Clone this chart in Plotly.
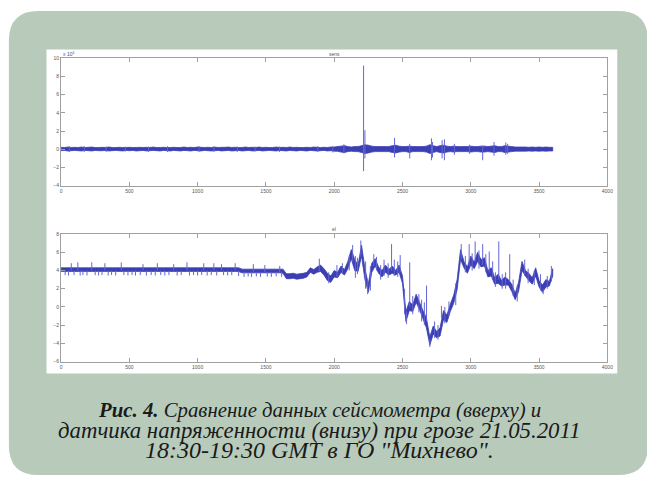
import plotly.graph_objects as go

W, H = 647, 488

# ---- seismometer channel "sens" (units of 1e4) ----
# continuous noise band: upper / lower edge every 25 s from t = 0 to 3600 s
sens_step = 25
sens_hi = [
    0.22, 0.2, 0.25, 0.2, 0.22, 0.2, 0.25, 0.2,
    0.22, 0.25, 0.2, 0.2, 0.22, 0.2, 0.25, 0.2,
    0.2, 0.22, 0.2, 0.2, 0.22, 0.2, 0.2, 0.22,
    0.2, 0.22, 0.2, 0.25, 0.2, 0.2, 0.22, 0.2,
    0.2, 0.22, 0.2, 0.2, 0.25, 0.2, 0.22, 0.2,
    0.25, 0.22, 0.2, 0.22, 0.2, 0.25, 0.2, 0.22,
    0.22, 0.25, 0.2, 0.22, 0.2, 0.2, 0.25, 0.2,
    0.22, 0.2, 0.25, 0.2, 0.22, 0.2, 0.2, 0.25,
    0.2, 0.22, 0.2, 0.25, 0.2, 0.22, 0.2, 0.2,
    0.22, 0.2, 0.25, 0.22, 0.2, 0.22, 0.2, 0.25,
    0.25, 0.3, 0.35, 0.4, 0.3, 0.25, 0.3, 0.3,
    0.4, 0.5, 0.45, 0.35, 0.3, 0.3, 0.3, 0.3,
    0.3, 0.4, 0.45, 0.35, 0.3, 0.3, 0.35, 0.3,
    0.3, 0.3, 0.3, 0.35, 0.5, 0.4, 0.3, 0.4,
    0.45, 0.35, 0.3, 0.35, 0.3, 0.3, 0.3, 0.3,
    0.35, 0.3, 0.3, 0.35, 0.35, 0.3, 0.35, 0.4,
    0.3, 0.3, 0.4, 0.35, 0.3, 0.25, 0.25, 0.25,
    0.25, 0.22, 0.25, 0.22, 0.25, 0.22, 0.25, 0.22,
    0.22,
]
sens_lo = [
    -0.15, -0.12, -0.18, -0.15, -0.12, -0.15, -0.18, -0.12,
    -0.15, -0.18, -0.12, -0.15, -0.15, -0.12, -0.18, -0.15,
    -0.12, -0.15, -0.18, -0.12, -0.15, -0.12, -0.18, -0.15,
    -0.12, -0.18, -0.15, -0.12, -0.15, -0.18, -0.12, -0.15,
    -0.18, -0.12, -0.15, -0.18, -0.12, -0.15, -0.18, -0.12,
    -0.15, -0.18, -0.12, -0.15, -0.18, -0.15, -0.12, -0.18,
    -0.15, -0.12, -0.18, -0.15, -0.12, -0.18, -0.15, -0.12,
    -0.18, -0.15, -0.12, -0.18, -0.15, -0.12, -0.15, -0.18,
    -0.12, -0.15, -0.18, -0.12, -0.15, -0.18, -0.12, -0.15,
    -0.18, -0.12, -0.15, -0.18, -0.15, -0.12, -0.18, -0.15,
    -0.2, -0.22, -0.3, -0.35, -0.25, -0.2, -0.25, -0.25,
    -0.35, -0.45, -0.4, -0.3, -0.25, -0.25, -0.25, -0.25,
    -0.25, -0.35, -0.4, -0.3, -0.25, -0.25, -0.35, -0.25,
    -0.25, -0.25, -0.25, -0.3, -0.45, -0.35, -0.25, -0.35,
    -0.4, -0.3, -0.25, -0.3, -0.25, -0.25, -0.25, -0.25,
    -0.3, -0.25, -0.25, -0.3, -0.3, -0.25, -0.3, -0.35,
    -0.25, -0.25, -0.35, -0.3, -0.25, -0.2, -0.2, -0.2,
    -0.2, -0.18, -0.2, -0.18, -0.2, -0.18, -0.2, -0.18,
    -0.18,
]
# short bursts: time, peak, trough
sens_burst_t = [60, 170, 330, 470, 640, 780, 1010, 1120, 1290, 1420, 1600, 1880, 1990,
                2071, 2215, 2225, 2442, 2553, 2712, 2720, 2790, 2807, 2880, 2990,
                3087, 3170, 3256, 3270]
sens_burst_top = [0.35, 0.35, 0.3, 0.3, 0.3, 0.35, 0.35, 0.3, 0.3, 0.3, 0.3, 0.35, 0.35,
                  0.55, 9.2, 2.1, 1.25, 0.6, 1.2, 0.8, 1.0, 1.1, 0.6, 0.5,
                  0.4, 0.8, 0.75, 0.6]
sens_burst_bot = [-0.3, -0.3, -0.3, -0.25, -0.3, -0.3, -0.3, -0.3, -0.3, -0.25, -0.3, -0.3, -0.35,
                  -0.45, -2.4, -1.0, -0.9, -1.0, -1.2, -0.9, -1.0, -1.2, -0.6, -0.5,
                  -1.2, -0.7, -0.6, -0.5]

# ---- field-strength channel "el" ----
el_step = 25
el_hi = [
    4.3, 4.3, 4.3, 4.3, 4.3, 4.3, 4.3, 4.3,
    4.3, 4.3, 4.3, 4.3, 4.3, 4.3, 4.3, 4.3,
    4.3, 4.3, 4.3, 4.3, 4.3, 4.3, 4.3, 4.3,
    4.3, 4.3, 4.3, 4.3, 4.3, 4.3, 4.3, 4.3,
    4.3, 4.3, 4.3, 4.3, 4.3, 4.3, 4.3, 4.3,
    4.3, 4.3, 4.3, 4.3, 4.3, 4.3, 4.3, 4.3,
    4.3, 4.3, 4.3, 4.3, 4.3, 4.15, 4.15, 4.15,
    4.15, 4.15, 4.15, 4.15, 4.15, 4.15, 4.15, 4.15,
    4.15, 4.15, 3.65, 3.65, 3.7, 3.6, 3.65, 3.7,
    3.8, 4.3, 4.1, 4.4, 4.6, 4.2, 3.7, 3.4,
    4.0, 3.8, 4.5, 4.1, 5.0, 6.3, 5.2, 4.6,
    6.8, 4.2, 2.5, 4.8, 5.3, 4.4, 4.0, 4.6,
    4.1, 4.5, 4.0, 4.6, 3.4, -0.5, 0.6, 0.2,
    1.4, 0.5, -0.4, -1.2, -3.3, -2.1, -2.7, -2.3,
    -0.4, -0.9, 0.3, 1.3, 3.0, 6.3, 5.0, 4.4,
    5.6, 4.9, 6.0, 5.2, 5.4, 4.0, 4.3, 3.2,
    3.6, 2.9, 3.3, 3.0, 2.5, 1.5, 2.7, 5.0,
    4.0, 3.7, 3.2, 4.3, 2.9, 2.4, 3.0, 2.8,
    4.2,
]
el_lo = [
    3.9, 3.9, 3.9, 3.9, 3.9, 3.9, 3.9, 3.9,
    3.9, 3.9, 3.9, 3.9, 3.9, 3.9, 3.9, 3.9,
    3.9, 3.9, 3.9, 3.9, 3.9, 3.9, 3.9, 3.9,
    3.9, 3.9, 3.9, 3.9, 3.9, 3.9, 3.9, 3.9,
    3.9, 3.9, 3.9, 3.9, 3.9, 3.9, 3.9, 3.9,
    3.9, 3.9, 3.9, 3.9, 3.9, 3.9, 3.9, 3.9,
    3.9, 3.9, 3.9, 3.9, 3.9, 3.75, 3.75, 3.75,
    3.75, 3.75, 3.75, 3.75, 3.75, 3.75, 3.75, 3.75,
    3.75, 3.7, 3.1, 3.1, 3.15, 3.05, 3.1, 3.15,
    3.3, 3.8, 3.6, 3.8, 3.9, 3.5, 2.9, 2.7,
    3.3, 3.2, 3.8, 3.5, 4.2, 5.3, 4.0, 3.9,
    5.6, 3.0, 1.6, 3.8, 4.5, 3.7, 3.3, 3.8,
    3.5, 3.7, 3.5, 3.8, 2.6, -1.6, -0.4, -0.5,
    0.5, -0.3, -1.3, -2.3, -4.2, -3.0, -3.4, -3.2,
    -1.4, -1.7, -0.5, 0.4, 1.9, 5.2, 4.3, 3.7,
    4.6, 4.2, 5.0, 4.4, 4.5, 3.3, 3.4, 2.5,
    2.6, 2.3, 2.4, 2.4, 1.7, 0.8, 1.7, 4.0,
    3.4, 2.9, 2.5, 3.4, 2.2, 1.6, 2.2, 2.3,
    3.4,
]
# sharp excursions: time, upper tip, lower tip
el_spike_t = [
    75, 123, 225, 321, 441, 600, 705, 825, 922, 1045, 1119, 1175, 1275, 1408, 1492, 1601,
    30, 55, 95, 140, 160, 190, 250, 275, 300, 345, 370, 400, 460, 490, 520, 545, 580, 625,
    660, 690, 730, 760, 790, 850, 880, 940, 970, 1000, 1030, 1070, 1100, 1140, 1190, 1220,
    1250, 1300, 1340, 1370, 1395, 1430, 1460, 1510, 1540, 1575, 1615,
    1891, 2135, 2155, 2195, 2245, 2290, 2420, 2483, 2530, 2553, 2676, 2700, 2785,
    2930, 2988, 3032, 3087, 3135, 3205, 3285, 3530,
    1960, 2020, 2060, 2110, 2170, 2230, 2265, 2310, 2340, 2365, 2395, 2440, 2465,
    2515, 2575, 2620, 2640, 2660, 2735, 2760, 2810, 2840, 2890, 2960, 3010, 3060,
    3110, 3160, 3180, 3230, 3255, 3310, 3340, 3395, 3420, 3465, 3510, 3560, 3590,
]
el_spike_top = [
    4.8, 4.9, 4.9, 4.8, 4.9, 4.7, 4.8, 4.7, 4.9, 4.8, 4.8, 4.7, 4.8, 4.7, 4.6, 4.5,
    4.0, 4.0, 4.0, 4.0, 4.0, 4.0, 4.0, 4.0, 4.0, 4.0, 4.0, 4.0, 4.0, 4.0, 4.0, 4.0, 4.0, 4.0,
    4.0, 4.0, 4.0, 4.0, 4.0, 4.0, 4.0, 4.0, 4.0, 4.0, 4.0, 4.0, 4.0, 4.0, 4.0, 4.0,
    4.0, 4.0, 3.85, 3.85, 3.85, 3.85, 3.85, 3.85, 3.85, 3.85, 3.85,
    5.3, 6.8, 5.6, 7.3, 3.0, 5.8, 6.9, 5.7, -0.5, 4.9, 2.35, -3.5, 0.1,
    6.9, 6.9, 7.2, 6.9, 6.1, 7.2, 5.8, 2.0,
    3.8, 4.6, 4.8, 5.6, 5.4, 5.0, 4.5, 5.5, 4.6, 5.2, 4.8, 5.2, 5.0,
    2.0, 1.2, 1.4, 0.8, 0.5, -1.6, -2.0, 0.0, 0.6, 2.6, 5.6, 5.9, 6.2,
    5.8, 5.0, 3.8, 3.6, 3.8, 3.0, 2.4, 5.2, 4.2, 4.0, 3.6, 3.4, 4.5,
]
el_spike_bot = [
    4.0, 4.0, 4.0, 4.0, 4.0, 4.0, 4.0, 4.0, 4.0, 4.0, 4.0, 4.0, 4.0, 3.8, 3.8, 3.8,
    3.5, 3.45, 3.5, 3.45, 3.5, 3.45, 3.5, 3.45, 3.5, 3.45, 3.5, 3.45, 3.5, 3.45, 3.5, 3.45,
    3.5, 3.45, 3.5, 3.45, 3.5, 3.45, 3.5, 3.45, 3.5, 3.45, 3.5, 3.45, 3.5, 3.45, 3.5, 3.45,
    3.5, 3.45, 3.5, 3.4, 3.3, 3.35, 3.3, 3.35, 3.3, 3.35, 3.3, 3.35, 3.3,
    3.9, 5.0, 3.2, 5.5, 1.4, 4.5, 4.0, 3.8, -1.9, 0.0, -1.6, -4.4, -1.2,
    5.2, 4.5, 5.0, 4.6, 3.8, 3.0, 2.8, 1.4,
    2.6, 3.2, 3.6, 4.0, 3.6, 2.0, 1.8, 4.0, 3.0, 3.4, 3.2, 3.4, 3.3,
    -0.8, -0.8, -0.6, -1.6, -2.0, -3.4, -3.6, -1.8, -1.0, 0.2, 3.8, 4.0, 4.2,
    3.8, 3.0, 2.2, 2.0, 2.0, 1.2, 0.6, 3.4, 2.6, 2.4, 1.8, 2.0, 2.8,
]

x_ticks = [0, 500, 1000, 1500, 2000, 2500, 3000, 3500, 4000]
sens_ticks = [-4, -2, 0, 2, 4, 6, 8, 10]
el_ticks = [-6, -4, -2, 0, 2, 4, 6, 8]

caption_lines = [
    "<b>Рис. 4.</b> Сравнение данных сейсмометра (вверху) и",
    "датчика напряженности (внизу) при грозе 21.05.2011",
    "18:30-19:30 GMT в ГО \"Михнево\".",
]
caption_sizes = [20.8, 22.8, 24]

BLUE = "#3b3fb3"
STROKE = "#6466d6"
FRAME = "#a0a0a0"
GREEN = "#b8cbbb"
SERIF = "Liberation Serif, Tinos, Times New Roman, DejaVu Serif, serif"


def band_polygon(step, hi, lo):
    """Closed outline: along the upper edge, back along the lower edge."""
    n = len(hi)
    ts = [i * step for i in range(n)]
    return ts + ts[::-1], list(hi) + list(lo)[::-1]


def strokes(ts, tops, bots):
    xs, ys = [], []
    for t, a, b in zip(ts, tops, bots):
        xs += [t, t, None]
        ys += [b, a, None]
    return xs, ys


fig = go.Figure()
for (step, hi, lo, bt, btop, bbot, xa, ya) in [
    (sens_step, sens_hi, sens_lo, sens_burst_t, sens_burst_top, sens_burst_bot, "x", "y"),
    (el_step, el_hi, el_lo, el_spike_t, el_spike_top, el_spike_bot, "x2", "y2"),
]:
    px, py = band_polygon(step, hi, lo)
    fig.add_trace(go.Scatter(x=px, y=py, mode="lines", fill="toself", fillcolor=BLUE,
                             line=dict(color=BLUE, width=0.8, simplify=False),
                             xaxis=xa, yaxis=ya, hoverinfo="skip", showlegend=False))
    sx, sy = strokes(bt, btop, bbot)
    fig.add_trace(go.Scatter(x=sx, y=sy, mode="lines",
                             line=dict(color=STROKE, width=1, simplify=False),
                             xaxis=xa, yaxis=ya, hoverinfo="skip", showlegend=False))


def px_x(p):
    return p / W


def px_y(p):
    return 1 - p / H


axis_common = dict(
    showline=True, mirror="ticks", linecolor=FRAME, linewidth=1,
    ticks="inside", ticklen=4, tickcolor=FRAME, tickwidth=1,
    tickfont=dict(size=5, color="#555555", family="Liberation Sans"),
    showgrid=False, zeroline=False, tickmode="array", fixedrange=True,
)
xdom = [px_x(60.7), px_x(613)]

fig.update_layout(
    width=W, height=H, margin=dict(l=0, r=0, t=0, b=0),
    paper_bgcolor="white", plot_bgcolor="rgba(0,0,0,0)",
    xaxis=dict(domain=xdom, range=[0, 4000], tickvals=x_ticks, anchor="y", **axis_common),
    yaxis=dict(domain=[px_y(185), px_y(56)], range=[-4, 10], tickvals=sens_ticks,
               anchor="x", **axis_common),
    xaxis2=dict(domain=xdom, range=[0, 4000], tickvals=x_ticks, anchor="y2", **axis_common),
    yaxis2=dict(domain=[px_y(363), px_y(234)], range=[-6, 8], tickvals=el_ticks,
                anchor="x2", **axis_common),
)

# rounded green card behind everything, white panel holding both plots
x0, x1, y0, y1, r = 8, 654, 8, 478, 30


def P(x, y):
    return f"{px_x(x):.5f},{px_y(y):.5f}"


card = (f"M{P(x0 + r, y0)} L{P(x1 - r, y0)} Q{P(x1, y0)} {P(x1, y0 + r)} "
        f"L{P(x1, y1 - r)} Q{P(x1, y1)} {P(x1 - r, y1)} L{P(x0 + r, y1)} "
        f"Q{P(x0, y1)} {P(x0, y1 - r)} L{P(x0, y0 + r)} Q{P(x0, y0)} {P(x0 + r, y0)} Z")
fig.add_shape(type="path", path=card, xref="paper", yref="paper",
              fillcolor=GREEN, line=dict(width=0), layer="below")
fig.add_shape(type="rect", xref="paper", yref="paper",
              x0=px_x(46), x1=px_x(623), y0=px_y(375), y1=px_y(47),
              fillcolor="white", line=dict(width=0), layer="below")

small = dict(size=5, color="#555555", family="Liberation Sans")
fig.add_annotation(text="sens", x=(xdom[0] + xdom[1]) / 2, y=px_y(52), xref="paper", yref="paper",
                   showarrow=False, font=small, xanchor="center", yanchor="middle")
fig.add_annotation(text="el", x=(xdom[0] + xdom[1]) / 2, y=px_y(229), xref="paper", yref="paper",
                   showarrow=False, font=small, xanchor="center", yanchor="middle")
fig.add_annotation(text="x 10<sup>4</sup>", x=px_x(61), y=px_y(52), xref="paper", yref="paper",
                   showarrow=False, font=small, xanchor="left", yanchor="middle")

for i, (line, size) in enumerate(zip(caption_lines, caption_sizes)):
    fig.add_annotation(text=line, x=px_x(322), y=px_y(412 + 20.5 * i),
                       xref="paper", yref="paper", showarrow=False,
                       xanchor="center", yanchor="middle",
                       font=dict(size=size, color="#1a1a1a", family=SERIF, style="italic"))

fig.write_html("out.html")
